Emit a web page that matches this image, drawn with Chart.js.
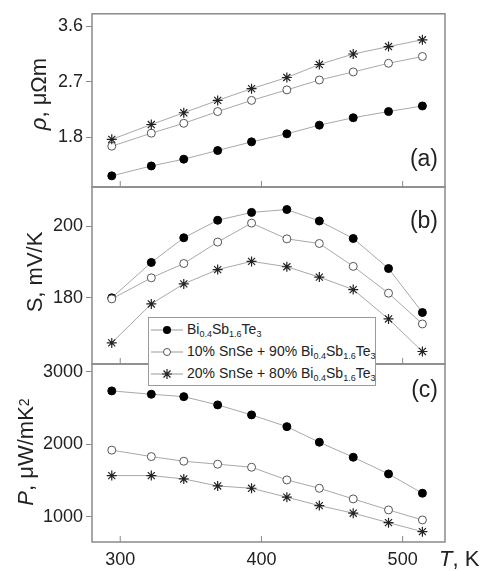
<!DOCTYPE html>
<html>
<head>
<meta charset="utf-8">
<script src="https://cdn.jsdelivr.net/npm/chart.js@4"></script>
<style>
  body { margin: 0; background: #fff; }
  #wrap { position: relative; width: 480px; height: 571px; font-family: "Liberation Sans", Arial, sans-serif; color: #222; }
  #wrap canvas { position: absolute; left: 0; top: 0; }
  .ytitle { position: absolute; white-space: nowrap; font-size: 22px; transform: translate(-50%, -50%) rotate(-90deg); }
  .plabel { position: absolute; font-size: 23px; right: 42px; transform: translateY(-50%); }
  #xtitle { position: absolute; left: 439px; top: 559px; font-size: 22px; transform: translateY(-50%); white-space: nowrap; }
  #legend { position: absolute; left: 148px; top: 317px; width: 226px; height: 67px; background: #fff; border: 1px solid #9a9a9a; font-size: 14px; }
  #legend div { position: absolute; left: 2px; height: 20px; line-height: 20px; white-space: nowrap; }
  #legend svg { vertical-align: middle; margin-right: 4px; }
  sub { font-size: 9px; vertical-align: -3px; }
</style>
</head>
<body>
<div id="wrap">
  <canvas id="chart-a" width="480" height="571"></canvas>
  <canvas id="chart-b" width="480" height="571"></canvas>
  <canvas id="chart-c" width="480" height="571"></canvas>

  <div class="ytitle" style="left:39px; top:94px;"><i>ρ</i>, μΩm</div>
  <div class="ytitle" style="left:35px; top:272px;">S, mV/K</div>
  <div class="ytitle" style="left:26px; top:452px;"><i>P</i>, μW/mK<span style="font-size:14px; vertical-align:4px;">2</span></div>
  <div class="plabel" style="top:158px;">(a)</div>
  <div class="plabel" style="top:220px;">(b)</div>
  <div class="plabel" style="top:389px;">(c)</div>
  <div id="xtitle"><i>T</i>, K</div>

  <div id="legend">
    <div style="top:1px;"><svg width="32" height="12"><line x1="0" y1="6" x2="32" y2="6" stroke="#999"/><circle cx="16" cy="6" r="4" fill="#000"/></svg>Bi<sub>0.4</sub>Sb<sub>1.6</sub>Te<sub>3</sub></div>
    <div style="top:23px;"><svg width="32" height="12"><line x1="0" y1="6" x2="32" y2="6" stroke="#999"/><circle cx="16" cy="6" r="3.5" fill="#fff" stroke="#555"/></svg>10% SnSe + 90% Bi<sub>0.4</sub>Sb<sub>1.6</sub>Te<sub>3</sub></div>
    <div style="top:45px;"><svg width="32" height="12"><line x1="0" y1="6" x2="32" y2="6" stroke="#999"/><path d="M11 6H21M16 1V11M12.5 2.5L19.5 9.5M19.5 2.5L12.5 9.5" stroke="#222" stroke-width="1.2"/></svg>20% SnSe + 80% Bi<sub>0.4</sub>Sb<sub>1.6</sub>Te<sub>3</sub></div>
  </div>
</div>

<script>
// temperature, K
const temps = [294, 322, 345, 369, 393, 418, 441, 465, 490, 514];
const xTicks = [300, 400, 500];

// (a) resistivity, uOhm m
const rhoBST = [1.18, 1.34, 1.45, 1.59, 1.73, 1.86, 2.00, 2.12, 2.22, 2.31];
const rho10 = [1.66, 1.87, 2.03, 2.22, 2.40, 2.57, 2.73, 2.86, 3.00, 3.11];
const rho20 = [1.77, 2.01, 2.20, 2.40, 2.59, 2.77, 2.98, 3.15, 3.27, 3.38];
const rhoTicks = [1.8, 2.7, 3.6];

// (b) Seebeck, mV/K
const sBST = [180.0, 189.9, 196.8, 201.7, 203.9, 204.7, 201.5, 196.6, 188.2, 175.9];
const s10 = [179.7, 185.6, 189.6, 195.6, 200.9, 196.5, 195.2, 188.8, 181.3, 172.7];
const s20 = [167.4, 178.3, 183.9, 187.9, 190.2, 188.7, 185.8, 182.3, 174.1, 165.0];
const sTicks = [180, 200];

// (c) power factor, uW/mK2
const pBST = [2734, 2688, 2655, 2541, 2403, 2241, 2026, 1819, 1589, 1323];
const p10 = [1917, 1828, 1764, 1723, 1681, 1506, 1391, 1244, 1092, 954];
const p20 = [1566, 1566, 1520, 1423, 1391, 1268, 1152, 1047, 917, 793];
const pTicks = [1000, 2000, 3000];

const W = 480, H = 571;
const plotLeft = 92, plotRight = 445;

function pts(vals) {
    return temps.map((t, i) => ({ x: t, y: vals[i] }));
}

// frame around plot area + inward x ticks
const framePlugin = {
    id: 'frame',
    afterDraw(chart) {
        const a = chart.chartArea;
        const c = chart.ctx;
        c.save();
        c.strokeStyle = '#8a8a8a';
        c.lineWidth = 1.5;
        c.strokeRect(a.left, a.top, a.right - a.left, a.bottom - a.top);
        c.lineWidth = 1;
        xTicks.forEach(v => {
            const x = chart.scales.x.getPixelForValue(v);
            c.beginPath();
            c.moveTo(x, a.bottom);
            c.lineTo(x, a.bottom - 6);
            c.stroke();
        });
        c.restore();
    }
};

function makePanel(id, top, bottom, series, yMin, yMax, yTicks, showX) {
    const ctx = document.getElementById(id);
    new Chart(ctx, {
        type: 'line',
        data: {
            datasets: [{
                data: pts(series[0]),
                borderColor: '#a8a8a8',
                borderWidth: 1,
                pointStyle: 'circle',
                pointRadius: 4,
                pointBackgroundColor: '#000',
                pointBorderColor: '#000',
                order: 3
            }, {
                data: pts(series[1]),
                borderColor: '#a8a8a8',
                borderWidth: 1,
                pointStyle: 'circle',
                pointRadius: 4,
                pointBorderWidth: 1,
                pointBackgroundColor: '#fff',
                pointBorderColor: '#555',
                order: 2
            }, {
                data: pts(series[2]),
                borderColor: '#a8a8a8',
                borderWidth: 1,
                pointStyle: 'star',
                pointRadius: 5,
                pointBorderWidth: 1.2,
                pointBackgroundColor: '#222',
                pointBorderColor: '#222',
                order: 1
            }]
        },
        options: {
            responsive: false,
            animation: false,
            layout: {
                autoPadding: false,
                padding: { top: top, bottom: showX ? 0 : H - bottom, left: 0, right: W - plotRight }
            },
            scales: {
                x: {
                    type: 'linear',
                    display: showX,
                    min: 280,
                    max: 530,
                    afterFit: s => { s.height = showX ? H - bottom : 0; },
                    afterBuildTicks: s => { s.ticks = xTicks.map(v => ({ value: v })); },
                    grid: { display: false, drawTicks: false },
                    border: { display: false },
                    ticks: { padding: 7, color: '#222', font: { family: 'Liberation Sans', size: 18 } }
                },
                y: {
                    min: yMin,
                    max: yMax,
                    afterFit: s => { s.width = plotLeft; },
                    afterBuildTicks: s => { s.ticks = yTicks.map(v => ({ value: v })); },
                    grid: { drawOnChartArea: false, drawTicks: true, tickLength: 6, color: '#8a8a8a' },
                    border: { display: false },
                    ticks: {
                        padding: 3,
                        color: '#222',
                        font: { family: 'Liberation Sans', size: 18 },
                        callback: v => String(v)
                    }
                }
            },
            plugins: {
                legend: { display: false },
                tooltip: { enabled: false }
            }
        },
        plugins: [framePlugin]
    });
}

makePanel('chart-a', 10, 187, [rhoBST, rho10, rho20], 1.0, 3.8, rhoTicks, false);
makePanel('chart-b', 187, 364, [sBST, s10, s20], 161.5, 211, sTicks, false);
makePanel('chart-c', 364, 542, [pBST, p10, p20], 650, 3105, pTicks, true);
</script>
</body>
</html>
